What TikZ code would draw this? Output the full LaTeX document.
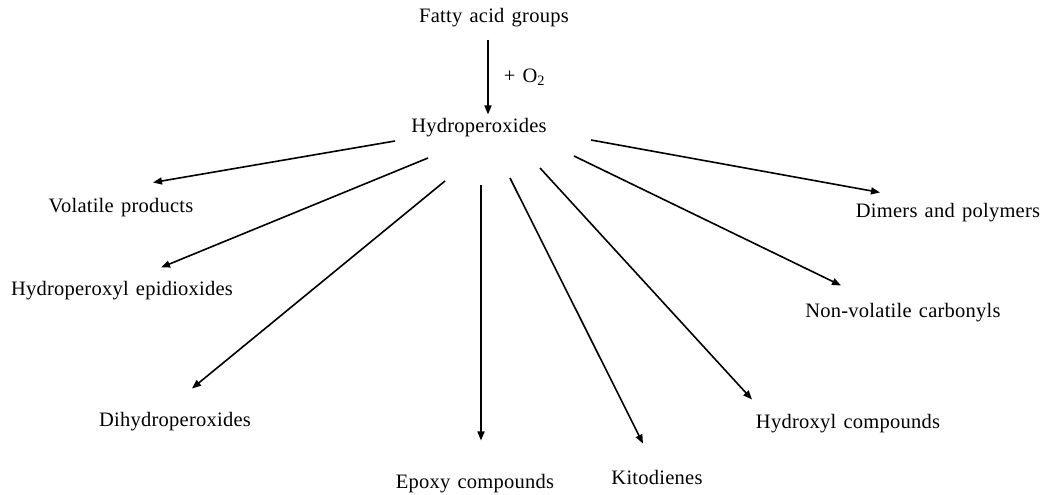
\documentclass[tikz,border=0pt]{standalone}
\usepackage{fontspec}
\setmainfont{Liberation Serif}[LetterSpace=1.2,WordSpace=1.35]
\usetikzlibrary{arrows.meta,calc}
\begin{document}
\begin{tikzpicture}[x=1pt,y=-1pt,
  lbl/.style={inner sep=0pt,font=\fontsize{20.5}{22}\selectfont},
  arr/.style={line width=1.6pt,-{Triangle[length=9pt,width=7pt]}}]
\useasboundingbox (0,0) rectangle (1042,495);
\node[lbl] (fa) at (494,18) {Fatty acid groups};
\node[lbl] (hp) at (479,128) {Hydroperoxides};
\node[lbl] (vp) at (121,208) {Volatile products};
\node[lbl] (he) at (122,291) {Hydroperoxyl epidioxides};
\node[lbl] (dh) at (175,422) {Dihydroperoxides};
\node[lbl] (ep) at (475,484) {Epoxy compounds};
\node[lbl] (ki) at (657,477) {Kitodienes};
\node[lbl] (hc) at (848,424) {Hydroxyl compounds};
\node[lbl] (nv) at (903,313) {Non-volatile carbonyls};
\node[lbl] (dp) at (948,213) {Dimers and polymers};
% connector starts
\coordinate (s1) at (395,141);
\coordinate (s2) at (428,158);
\coordinate (s3) at (445,181);
\coordinate (s4) at (481,185);
\coordinate (s5) at (510,178);
\coordinate (s6) at (540,168);
\coordinate (s7) at (574,156);
\coordinate (s8) at (591,140);
\draw[arr] ($(fa.south)+(-6,12)$) -- ($(hp.north)+(9,-4)$) node[midway,right=15pt,lbl] (o2) {+ O\textsubscript{2}};
\draw[arr] (s1) -- ($(vp.north)+(32,-16)$);
\draw[arr] (s2) -- ($(he.north)+(39,-14)$);
\draw[arr] (s3) -- ($(dh.north)+(17,-24)$);
\draw[arr] (s4) -- ($(ep.north)+(6,-34)$);
\draw[arr] (s5) -- ($(ki.north)+(-14,-26)$);
\draw[arr] (s6) -- ($(hc.north)+(-96,-15)$);
\draw[arr] (s7) -- ($(nv.north)+(-62,-18)$);
\draw[arr] (s8) -- ($(dp.north)+(-68,-11)$);
\end{tikzpicture}
\end{document}
